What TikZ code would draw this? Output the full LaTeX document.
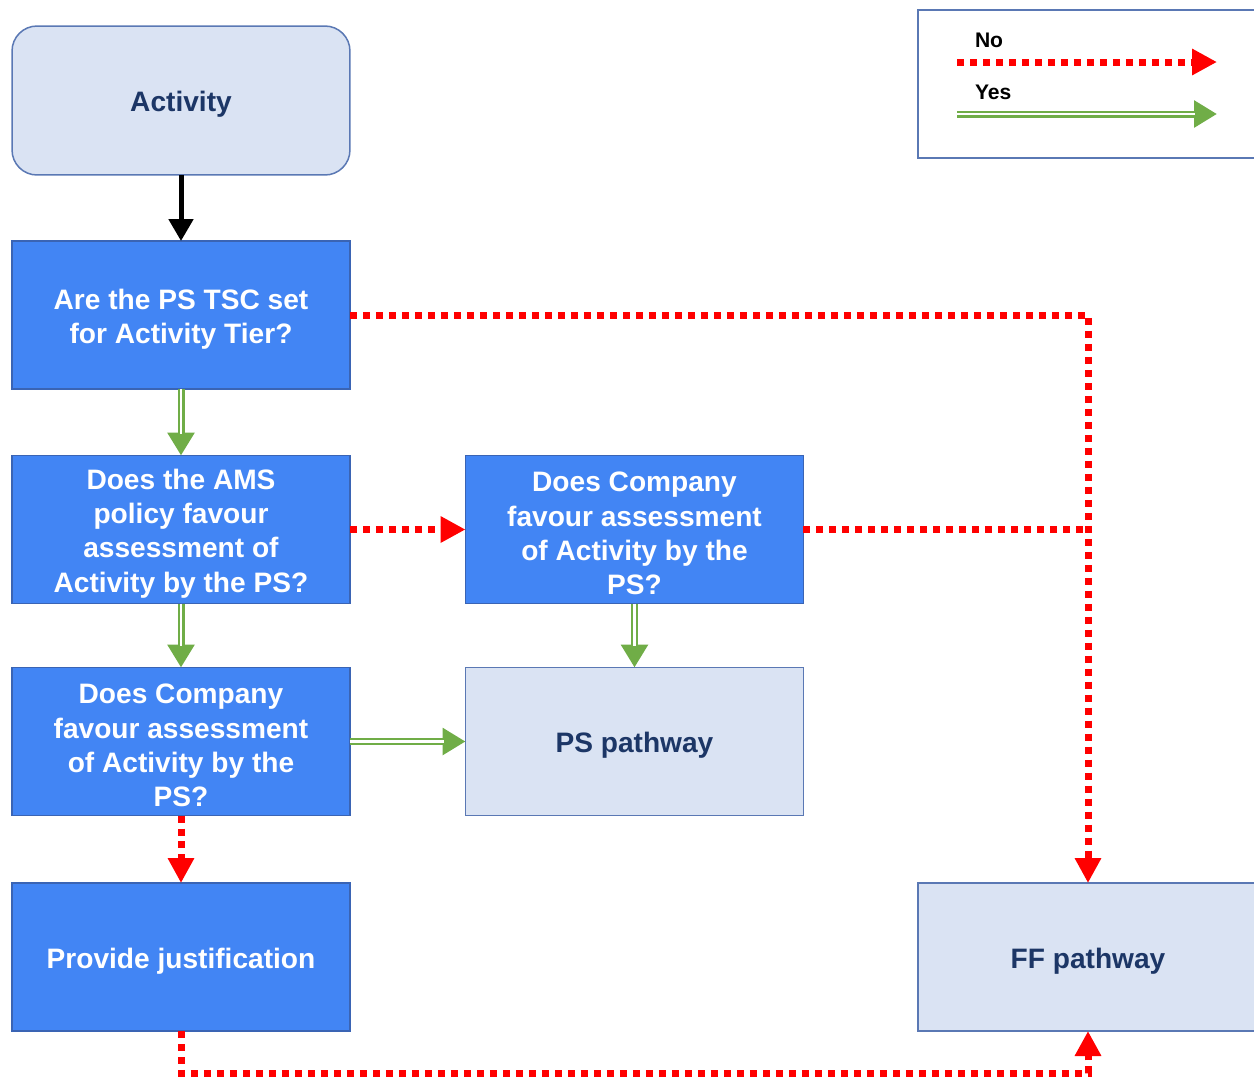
\documentclass[tikz,border=0pt]{standalone}
\usepackage{fontspec}
\setmainfont{Liberation Sans}
\usetikzlibrary{arrows.meta,calc}
\definecolor{qblue}{RGB}{66,133,244}
\definecolor{qborder}{RGB}{58,100,180}
\definecolor{lfill}{RGB}{218,227,243}
\definecolor{lborder}{RGB}{90,120,180}
\definecolor{navy}{RGB}{28,54,102}
\definecolor{ygreen}{RGB}{112,173,71}
\definecolor{nred}{RGB}{255,0,0}
\begin{document}
\begin{tikzpicture}[x=0.02cm,y=-0.02cm,
  every node/.style={inner sep=0pt,outer sep=0pt},
  boxq/.style={draw=qborder,line width=0.03cm,fill=qblue,
    minimum width=6.76cm,minimum height=2.96cm},
  boxl/.style={boxq,draw=lborder,fill=lfill},
  txtq/.style={text=white,align=center,font=\bfseries\fontsize{16}{19.5}\selectfont},
  txtl/.style={txtq,text=navy},
  noarrow/.style={draw=nred,line width=0.14cm,dash pattern=on 0.14cm off 0.12cm,
    -{Triangle[length=0.5cm,width=0.5cm]}},
  noline/.style={draw=nred,line width=0.14cm,dash pattern=on 0.14cm off 0.12cm},
  yesarrow/.style={draw=ygreen,line width=0.14cm,
    -{Triangle[length=0.46cm,width=0.52cm]},
    postaction={draw=white,line width=0.05cm,-,shorten >=0.44cm}},
  blackarrow/.style={draw=black,line width=0.1cm,-{Triangle[length=0.44cm,width=0.48cm]}}
]
\useasboundingbox[fill=white] (0,0) rectangle (1254,1080);

\node[boxl,rounded corners=0.5cm,minimum height=2.98cm] (act) at (181,100.5) {};
\node[boxq] (q1) at (181,315) {};
\node[boxq] (q2) at (181,529.5) {};
\node[boxq] (q3) at (634.5,529.5) {};
\node[boxq] (q4) at (181,741.5) {};
\node[boxl] (ps) at (634.5,741.5) {};
\node[boxq] (pj) at (181,957) {};
\node[boxl,minimum width=6.8cm] (ff) at (1088,957) {};

\node[txtl] (actt) at ($(act)+(0,4)$) {Activity};
\node[txtq] (q1t) at ($(q1)+(0,4)$) {Are the PS TSC set\\for Activity Tier?};
\node[txtq] (q2t) at ($(q2)+(0,4)$) {Does the AMS\\policy favour\\assessment of\\Activity by the PS?};
\node[txtq] (q3t) at ($(q3)+(0,4)$) {Does Company\\favour assessment\\of Activity by the\\PS?};
\node[txtq] (q4t) at ($(q4)+(0,4)$) {Does Company\\favour assessment\\of Activity by the\\PS?};
\node[txtl] (pst) at ($(ps)+(0,4)$) {PS pathway};
\node[txtq] (pjt) at ($(pj)+(0,4)$) {Provide justification};
\node[txtl] (fft) at ($(ff)+(0,4)$) {FF pathway};

% legend
\node[draw=lborder,line width=0.03cm,fill=white,minimum width=6.8cm,minimum height=2.96cm] (leg) at (1088,84) {};
\node[anchor=west,font=\bfseries\fontsize{12}{14}\selectfont] (tno) at (975,40) {No};
\node[anchor=west,font=\bfseries\fontsize{12}{14}\selectfont] (tyes) at (975,92) {Yes};
\coordinate (n1) at (957,62);
\coordinate (n2) at (1217,62);
\coordinate (y1) at (957,114);
\coordinate (y2) at (1217,114);
\draw[noarrow] (n1) -- (n2);
\draw[yesarrow] (y1) -- (y2);

% connectors
\draw[blackarrow] (act.south) -- (q1.north);
\draw[yesarrow] (q1.south) -- (q2.north);
\draw[noarrow] (q2.east) -- (q3.west);
\draw[yesarrow] (q2.south) -- (q4.north);
\draw[yesarrow] (q3.south) -- (ps.north);
\draw[yesarrow] (q4.east) -- (ps.west);
\draw[noarrow] (q4.south) -- (pj.north);
\draw[noarrow] (q1.east) -| (ff.north);
\coordinate (j3) at (1088,529.5);
\draw[noline] (q3.east) -- (j3);
\coordinate (bl) at (181,1073);
\draw[noarrow] (pj.south) -- (bl) -| (ff.south);
\end{tikzpicture}
\end{document}
